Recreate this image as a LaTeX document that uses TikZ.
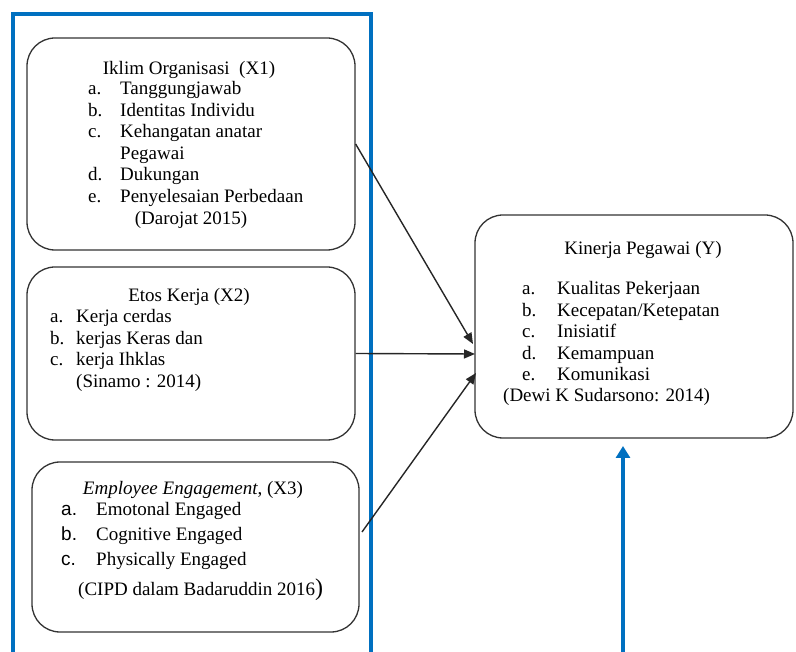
\documentclass[tikz,border=0pt]{standalone}
\usepackage{fontspec}
\setmainfont{Liberation Serif}
\newfontfamily\sansf{Liberation Sans}
\usetikzlibrary{arrows.meta}
\definecolor{wordblue}{RGB}{0,112,192}
\begin{document}
\begin{tikzpicture}[x=1pt,y=1pt,
 box/.style={draw=black!80, line width=1.3pt, rounded corners=28pt, inner sep=0pt},
 txt/.style={anchor=base west, inner sep=0pt, font=\fontsize{19}{21.5}\selectfont},
 ctxt/.style={anchor=base, inner sep=0pt, font=\fontsize{19}{21.5}\selectfont},
 arr/.style={line width=1.4pt, black!85, -{Triangle[length=11pt,width=9pt]}},
 bluearr/.style={line width=4pt, wordblue, -{Triangle[length=12pt,width=14pt]}}]
\useasboundingbox (0,0) rectangle (796,-652);
% blue frame
\draw[wordblue, line width=4pt] (13,-655) -- (13,-14) -- (371,-14) -- (371,-655);
% boxes
\node[box, minimum width=328pt, minimum height=212pt] (x1) at (191,-144) {};
\node[box, minimum width=328pt, minimum height=173pt] (x2) at (191,-353.5) {};
\node[box, minimum width=327pt, minimum height=170pt] (x3) at (195.5,-547) {};
\node[box, minimum width=318pt, minimum height=223pt] (y) at (634,-326.5) {};
% box X1 text
\node[ctxt] (x1t) at (189,-75) {Iklim Organisasi~ (X1)};
\node[txt] (x1la) at (88,-95) {a.};
\node[txt] (x1a) at (120,-95) {Tanggungjawab};
\node[txt] (x1lb) at (88,-116.5) {b.};
\node[txt] (x1b) at (120,-116.5) {Identitas Individu};
\node[txt] (x1lc) at (88,-138) {c.};
\node[txt] (x1c) at (120,-138) {Kehangatan anatar};
\node[txt] (x1c2) at (120,-159.5) {Pegawai};
\node[txt] (x1ld) at (88,-181) {d.};
\node[txt] (x1d) at (120,-181) {Dukungan};
\node[txt] (x1le) at (88,-202.5) {e.};
\node[txt] (x1e) at (120,-202.5) {Penyelesaian Perbedaan};
\node[ctxt] (x1s) at (191,-225) {(Darojat 2015)};
% box X2 text
\node[ctxt] (x2t) at (189,-302) {Etos Kerja (X2)};
\node[txt] (x2la) at (50,-323) {a.};
\node[txt] (x2a) at (76,-323) {Kerja cerdas};
\node[txt] (x2lb) at (50,-344.5) {b.};
\node[txt] (x2b) at (76,-344.5) {kerjas Keras dan};
\node[txt] (x2lc) at (50,-366) {c.};
\node[txt] (x2c) at (76,-366) {kerja Ihklas};
\node[txt] (x2s) at (76,-388) {(Sinamo : 2014)};
% box X3 text
\node[ctxt] (x3t) at (193,-495) {\itshape Employee Engagement\upshape, (X3)};
\node[txt] (x3la) at (61,-515) {\sansf a.};
\node[txt] (x3a) at (96,-515) {Emotonal Engaged};
\node[txt] (x3lb) at (61,-540) {\sansf b.};
\node[txt] (x3b) at (96,-540) {Cognitive Engaged};
\node[txt] (x3lc) at (61,-565) {\sansf c.};
\node[txt] (x3c) at (96,-565) {Physically Engaged};
\node[txt] (x3s) at (78,-595) {(CIPD dalam Badaruddin 2016{\fontsize{24}{24}\selectfont)}};
% box Y text
\node[ctxt] (yt) at (643,-255) {Kinerja Pegawai (Y)};
\node[txt] (yla) at (522,-295) {a.};
\node[txt] (ya) at (557,-295) {Kualitas Pekerjaan};
\node[txt] (ylb) at (522,-316.5) {b.};
\node[txt] (yb) at (557,-316.5) {Kecepatan/Ketepatan};
\node[txt] (ylc) at (522,-338) {c.};
\node[txt] (yc) at (557,-338) {Inisiatif};
\node[txt] (yld) at (522,-359.5) {d.};
\node[txt] (yd) at (557,-359.5) {Kemampuan};
\node[txt] (yle) at (522,-381) {e.};
\node[txt] (ye) at (557,-381) {Komunikasi};
\node[txt] (ys) at (503,-402) {(Dewi K Sudarsono: 2014)};
% connectors
\coordinate (e1) at (473,-344);
\coordinate (e2) at (475,-354);
\coordinate (e3) at (476,-373);
\coordinate (s3) at (362,-532);
\draw[arr] (x1.east) -- (e1);
\draw[arr] (x2.east) -- (e2);
\draw[arr] (s3) -- (e3);
\coordinate (b0) at (623,-652);
\coordinate (b1) at (623,-446);
\draw[bluearr] (b0) -- (b1);
\end{tikzpicture}
\end{document}
